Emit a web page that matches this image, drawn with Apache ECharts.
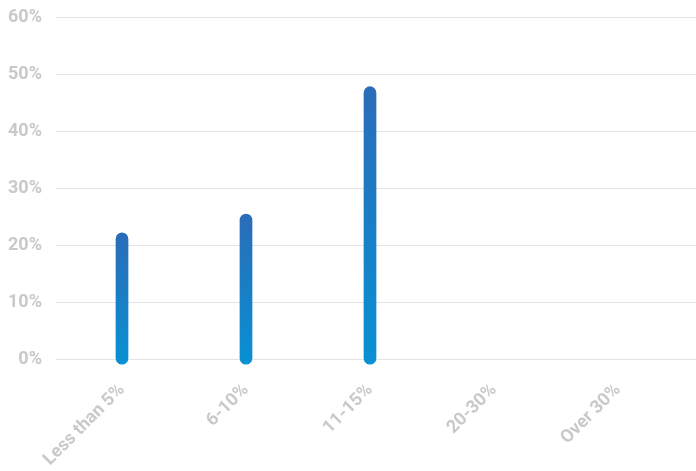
<!DOCTYPE html>
<html>
<head>
<meta charset="utf-8">
<script src="https://cdn.jsdelivr.net/npm/echarts@6/dist/echarts.min.js"></script>
<style>
html,body{margin:0;padding:0;background:#fff;}
#chart{width:696px;height:471px;}
</style>
</head>
<body>
<div id="chart"></div>
<script>
var categories = ['Less than 5%', '6-10%', '11-15%', '20-30%', 'Over 30%'];
var values = [21, 24.3, 46.7, 0, 0];
var showBar = [true, true, true, false, false];
var yTicks = [0, 10, 20, 30, 40, 50, 60];

var chart = echarts.init(document.getElementById('chart'), null, {renderer: 'canvas'});
var labelColor = '#c9c9c9';
var font = 'Roboto';
var gridTop = 17, gridBottom = 111.5;

var option = {
  animation: false,
  grid: [
    {left: 56, right: 0, top: gridTop, bottom: gridBottom},
    {left: 60, right: 16, top: gridTop, bottom: gridBottom}
  ],
  xAxis: [
    {type: 'value', gridIndex: 0, show: false, min: 0, max: 1},
    {type: 'category', gridIndex: 1, data: categories, boundaryGap: true,
     axisLine: {show: false}, axisTick: {show: false},
     axisLabel: {rotate: 45, margin: 29, color: labelColor, fontFamily: font, fontWeight: 'bold', fontSize: 18, interval: 0}}
  ],
  yAxis: [
    {type: 'value', gridIndex: 0, min: yTicks[0], max: yTicks[yTicks.length - 1], interval: 10,
     axisLine: {show: false}, axisTick: {show: false},
     axisLabel: {margin: 14, color: labelColor, fontFamily: font, fontWeight: 'bold', fontSize: 18, formatter: '{value}%'},
     splitLine: {lineStyle: {color: '#e2e2e2', width: 1}}},
    {type: 'value', gridIndex: 1, min: yTicks[0], max: yTicks[yTicks.length - 1], interval: 10, show: false, splitLine: {show: false}}
  ],
  series: [{
    type: 'custom',
    xAxisIndex: 1,
    yAxisIndex: 1,
    data: values.map(function (v, i) { return [i, v]; }),
    renderItem: function (params, api) {
      var i = api.value(0);
      if (!showBar[i]) return null;
      var top = api.coord([i, api.value(1)]);
      var bot = api.coord([i, 0]);
      var r = 6.35;
      return {
        type: 'rect',
        shape: {x: top[0] - r, y: top[1] - r, width: 2 * r, height: bot[1] - top[1] + 2 * r, r: r},
        style: {
          fill: new echarts.graphic.LinearGradient(0, 0, 0, 1, [
            {offset: 0, color: '#2b6cb8'},
            {offset: 1, color: '#0891d3'}
          ])
        }
      };
    }
  }]
};
chart.setOption(option);
</script>
</body>
</html>
